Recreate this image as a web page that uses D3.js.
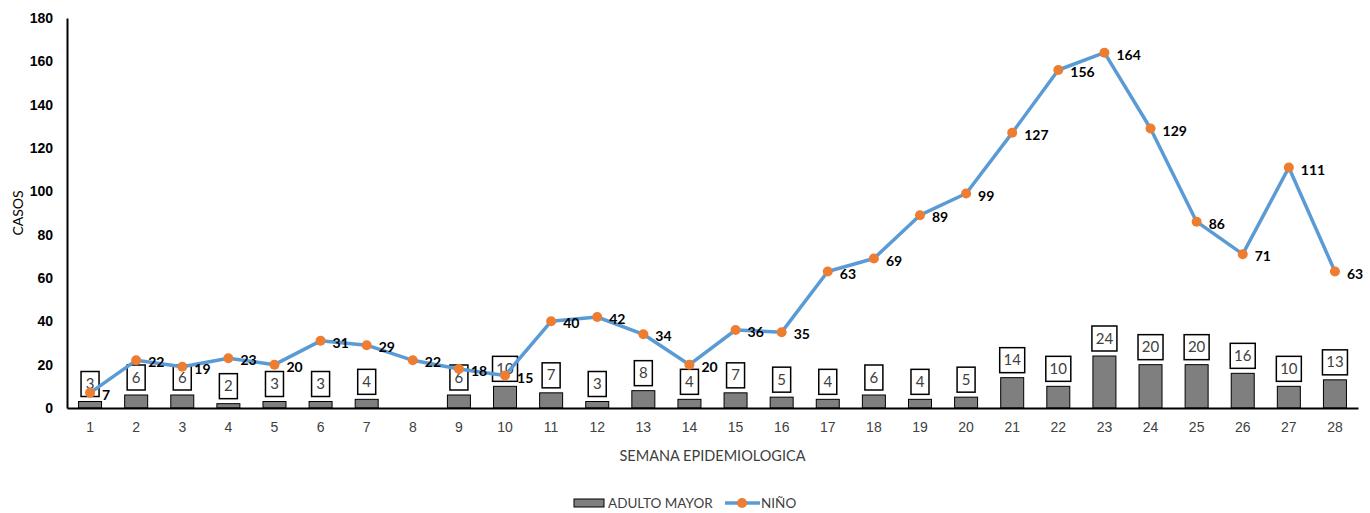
<!DOCTYPE html>
<html>
<head>
<meta charset="utf-8">
<script src="https://cdn.jsdelivr.net/npm/d3@7"></script>
<style>
  body { margin: 0; background: #fff; }
  svg { display: block; font-family: Lato, "Open Sans", sans-serif; }
</style>
</head>
<body>
<div id="chart"></div>
<script>
// weekly cases
const weeks = d3.range(1, 29);
const adultoMayor = [3, 6, 6, 2, 3, 3, 4, null, 6, 10, 7, 3, 8, 4, 7, 5, 4, 6, 4, 5, 14, 10, 24, 20, 20, 16, 10, 13];
const nino = [7, 22, 19, 23, 20, 31, 29, 22, 18, 15, 40, 42, 34, 20, 36, 35, 63, 69, 89, 99, 127, 156, 164, 129, 86, 71, 111, 63];
const yTicks = [0, 20, 40, 60, 80, 100, 120, 140, 160, 180];

const width = 1370;
const height = 513;
const margin = { top: 18, right: 12, bottom: 105, left: 67 };

const svg = d3.select("#chart").append("svg").attr("width", width).attr("height", height);

const x = d3.scaleBand().domain(weeks).range([margin.left, width - margin.right]);
const y = d3.scaleLinear().domain([0, 180]).range([height - margin.bottom, margin.top]);

const barW = 23;
const cx = (w) => x(w) + x.bandwidth() / 2;

// y axis
const yAxis = svg.append("g")
  .attr("transform", `translate(${margin.left},0)`)
  .call(d3.axisLeft(y).tickValues(yTicks).tickSize(0).tickPadding(14));
yAxis.select(".domain").attr("stroke", "#000").attr("stroke-width", 2);
yAxis.selectAll("text").attr("font-size", 14).attr("font-weight", "bold").attr("fill", "#000");

// bars
const barData = weeks.map((w, i) => ({ w, v: adultoMayor[i] })).filter((d) => d.v != null);

svg.selectAll(".bar")
  .data(barData)
  .enter()
  .append("rect")
  .attr("class", "bar")
  .attr("x", (d) => cx(d.w) - barW / 2)
  .attr("y", (d) => y(d.v))
  .attr("width", barW)
  .attr("height", (d) => y(0) - y(d.v))
  .attr("fill", "#7f7f7f")
  .attr("stroke", "#000")
  .attr("stroke-width", 1);

// x axis
const xAxis = svg.append("g")
  .attr("transform", `translate(0,${y(0)})`)
  .call(d3.axisBottom(x).tickSize(0).tickPadding(14));
xAxis.select(".domain").attr("stroke", "#000").attr("stroke-width", 2);
xAxis.selectAll("text").attr("font-size", 14).attr("fill", "#404040");

// bar labels in boxes
const boxH = 25;
const boxWidth = (v) => (String(v).length > 1 ? 25 : 18);
const boxes = svg.selectAll(".bar-label")
  .data(barData)
  .enter()
  .append("g")
  .attr("class", "bar-label")
  .attr("transform", (d) => `translate(${cx(d.w)},${y(d.v) - 5 - boxH})`);

boxes.append("rect")
  .attr("x", (d) => -boxWidth(d.v) / 2)
  .attr("width", (d) => boxWidth(d.v))
  .attr("height", boxH)
  .attr("fill", "#fff")
  .attr("stroke", "#000")
  .attr("stroke-width", 1.5);

boxes.append("text")
  .attr("y", boxH / 2 + 5)
  .attr("text-anchor", "middle")
  .attr("font-size", 15)
  .attr("fill", "#404040")
  .text((d) => d.v);

// line
const line = d3.line().x((d, i) => cx(weeks[i])).y((d) => y(d));

svg.append("path")
  .datum(nino)
  .attr("fill", "none")
  .attr("stroke", "#5b9bd5")
  .attr("stroke-width", 3.5)
  .attr("stroke-linejoin", "round")
  .attr("d", line);

svg.selectAll(".dot")
  .data(nino)
  .enter()
  .append("circle")
  .attr("class", "dot")
  .attr("cx", (d, i) => cx(weeks[i]))
  .attr("cy", (d) => y(d))
  .attr("r", 5)
  .attr("fill", "#ed7d31");

svg.selectAll(".line-label")
  .data(nino)
  .enter()
  .append("text")
  .attr("class", "line-label")
  .attr("x", (d, i) => cx(weeks[i]) + 12)
  .attr("y", (d) => y(d) + 7)
  .attr("font-size", 14)
  .attr("font-weight", "bold")
  .attr("fill", "#000")
  .text((d) => d);

// axis titles
svg.append("text")
  .attr("x", (margin.left + width - margin.right) / 2)
  .attr("y", 461)
  .attr("text-anchor", "middle")
  .attr("font-size", 14.5)
  .attr("fill", "#404040")
  .text("SEMANA EPIDEMIOLOGICA");

svg.append("text")
  .attr("transform", `translate(23,${(y(0) + y(180)) / 2}) rotate(-90)`)
  .attr("text-anchor", "middle")
  .attr("font-size", 14)
  .attr("fill", "#000")
  .text("CASOS");

// legend
const legend = svg.append("g").attr("transform", "translate(0,503)");
legend.append("rect")
  .attr("x", 574).attr("y", -4).attr("width", 30).attr("height", 8)
  .attr("fill", "#7f7f7f").attr("stroke", "#000").attr("stroke-width", 1);
legend.append("text")
  .attr("x", 608).attr("y", 5).attr("font-size", 13.5).attr("fill", "#404040")
  .text("ADULTO MAYOR");
legend.append("line")
  .attr("x1", 725).attr("x2", 760).attr("y1", 0).attr("y2", 0)
  .attr("stroke", "#5b9bd5").attr("stroke-width", 3.5);
legend.append("circle").attr("cx", 742).attr("cy", 0).attr("r", 5).attr("fill", "#ed7d31");
legend.append("text")
  .attr("x", 761).attr("y", 5).attr("font-size", 13.5).attr("fill", "#404040")
  .text("NIÑO");
</script>
</body>
</html>
